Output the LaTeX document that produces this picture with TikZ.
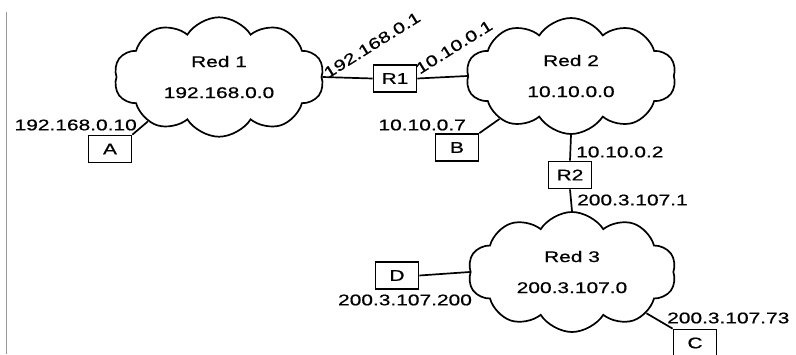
\documentclass[tikz,border=0pt]{standalone}
\usepackage{fontspec}
\setmainfont{Liberation Sans}[FakeStretch=1.35, FakeBold=0.6]
\usepackage{tikz}
\usetikzlibrary{shapes.symbols, positioning}

\begin{document}
\begin{tikzpicture}[x=1pt, y=-1pt,
        net/.style={cloud, cloud puffs=10, cloud puff arc=115, aspect=1.6, draw, line width=1.7pt,
                    align=center, inner sep=0pt, font=\fontsize{15.5}{18}\selectfont},
        host/.style={draw, line width=1.7pt, minimum width=43pt, minimum height=27pt,
                     inner sep=0pt, font=\fontsize{15.5}{18}\selectfont},
        addr/.style={inner sep=0pt, font=\fontsize{15.5}{18}\selectfont},
        link/.style={line width=1.7pt}]
        \useasboundingbox (0,0) rectangle (796,354);
        \fill[white] (0,0) rectangle (796,354);

        % margin rule on the left
        \draw[black!40, line width=1.3pt] (6.5,12) -- (6.5,354);

        % Networks
        \node[net, minimum width=210pt, minimum height=118pt] (red1) at (219,77) {Red 1\\[13pt]192.168.0.0};
        \node[net, minimum width=210pt, minimum height=116pt] (red2) at (571,76) {Red 2\\[13pt]10.10.0.0};
        \node[net, minimum width=208pt, minimum height=120pt] (red3) at (572,272) {Red 3\\[13pt]200.3.107.0};

        % Hosts and routers
        \node[host] (a) at (110,149) {A};
        \node[host] (b) at (457,147.5) {B};
        \node[host] (c) at (695,343) {C};
        \node[host] (d) at (397,275.5) {D};
        \node[host] (r1) at (395,78.5) {R1};
        \node[host] (r2) at (570,175) {R2};

        % Links
        \draw[link] (a.north east) -- (red1.212);
        \draw[link] (red1.east) -- (r1.west);
        \draw[link] (r1.east) -- (red2.west);
        \draw[link] (b.north east) -- (red2.211);
        \draw[link] (red2.south) -- (r2.north);
        \draw[link] (r2.south) -- (red3.north);
        \draw[link] (d.east) -- (red3.west);
        \draw[link] (red3.331) -- (c.north west);

        % Addresses
        \node[addr, anchor=east] (ipa) at (137,125) {192.168.0.10};
        \node[addr, rotate=32] (ipr1a) at (372,45) {192.168.0.1};
        \node[addr, rotate=32] (ipr1b) at (454,47) {10.10.0.1};
        \node[addr, anchor=east] (ipb) at (466,125) {10.10.0.7};
        \node[addr, anchor=west] (ipr2a) at (576,152) {10.10.0.2};
        \node[addr, anchor=west] (ipr2b) at (577,200) {200.3.107.1};
        \node[addr] (ipd) at (405,300) {200.3.107.200};
        \node[addr, anchor=west] (ipc) at (667,318) {200.3.107.73};
    \end{tikzpicture}
\end{document}
